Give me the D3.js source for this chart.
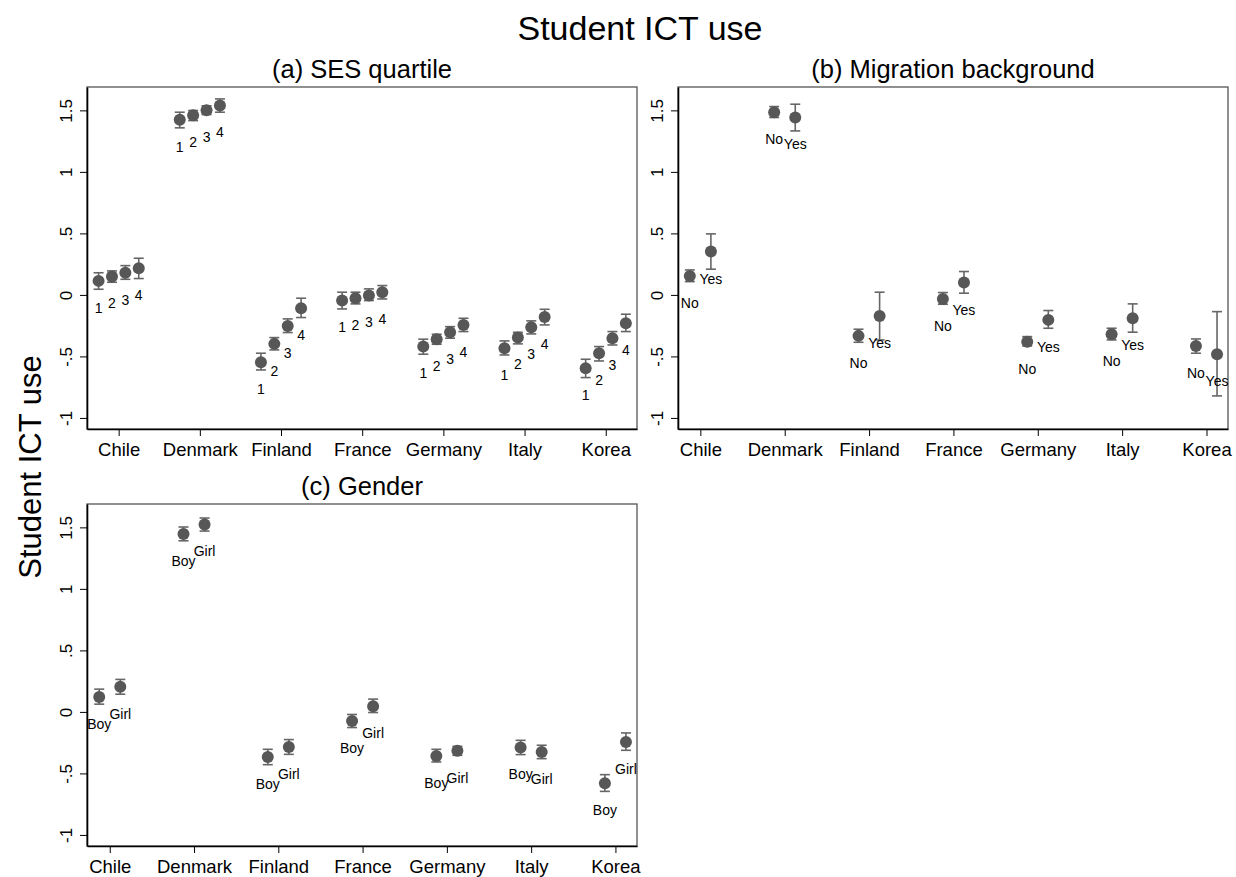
<!DOCTYPE html>
<html>
<head>
<meta charset="utf-8">
<script src="https://cdn.jsdelivr.net/npm/d3@7"></script>
<style>
  html, body { margin: 0; padding: 0; background: #fff; }
  svg { display: block; font-family: "Liberation Sans", Arial, Helvetica, sans-serif; }
</style>
</head>
<body>
<svg id="chart" width="1236" height="877"></svg>
<script>
// ---------- data ----------
const countries = ["Chile", "Denmark", "Finland", "France", "Germany", "Italy", "Korea"];
const yTickValues = [-1, -0.5, 0, 0.5, 1, 1.5];
const yTickLabels = ["-1", "-.5", "0", ".5", "1", "1.5"];

// (a) SES quartile
const sesGroups = ["1", "2", "3", "4"];
const sesMean = [
  [0.114, 0.149, 0.181, 0.217],
  [1.423, 1.461, 1.501, 1.539],
  [-0.547, -0.398, -0.252, -0.108],
  [-0.046, -0.027, -0.005, 0.022],
  [-0.420, -0.360, -0.304, -0.244],
  [-0.434, -0.347, -0.263, -0.179],
  [-0.596, -0.474, -0.352, -0.230]
];
const sesLow = [
  [0.046, 0.103, 0.127, 0.133],
  [1.358, 1.417, 1.466, 1.485],
  [-0.610, -0.447, -0.306, -0.184],
  [-0.114, -0.073, -0.046, -0.033],
  [-0.482, -0.401, -0.352, -0.298],
  [-0.488, -0.398, -0.317, -0.244],
  [-0.672, -0.537, -0.407, -0.298]
];
const sesHigh = [
  [0.180, 0.195, 0.238, 0.298],
  [1.485, 1.499, 1.537, 1.593],
  [-0.474, -0.347, -0.195, -0.027],
  [0.022, 0.022, 0.049, 0.076],
  [-0.360, -0.320, -0.258, -0.190],
  [-0.374, -0.304, -0.211, -0.117],
  [-0.523, -0.420, -0.298, -0.157]
];

// (b) Migration background
const migGroups = ["No", "Yes"];
const migMean = [
  [0.154, 0.352],
  [1.485, 1.442],
  [-0.333, -0.171],
  [-0.033, 0.100],
  [-0.380, -0.203],
  [-0.320, -0.190],
  [-0.415, -0.482]
];
const migLow = [
  [0.108, 0.209],
  [1.442, 1.333],
  [-0.385, -0.366],
  [-0.076, 0.014],
  [-0.415, -0.271],
  [-0.366, -0.303],
  [-0.474, -0.821]
];
const migHigh = [
  [0.203, 0.496],
  [1.531, 1.550],
  [-0.279, 0.022],
  [0.019, 0.190],
  [-0.339, -0.127],
  [-0.271, -0.073],
  [-0.358, -0.136]
];

// (c) Gender
const genGroups = ["Boy", "Girl"];
const genMean = [
  [0.122, 0.204],
  [1.446, 1.524],
  [-0.367, -0.285],
  [-0.073, 0.046],
  [-0.358, -0.315],
  [-0.290, -0.326],
  [-0.579, -0.245]
];
const genLow = [
  [0.063, 0.144],
  [1.391, 1.470],
  [-0.429, -0.345],
  [-0.127, -0.005],
  [-0.407, -0.353],
  [-0.347, -0.380],
  [-0.646, -0.312]
];
const genHigh = [
  [0.185, 0.264],
  [1.503, 1.576],
  [-0.304, -0.225],
  [-0.021, 0.104],
  [-0.304, -0.280],
  [-0.231, -0.271],
  [-0.510, -0.171]
];

// ---------- drawing ----------
const svg = d3.select("#chart");

svg.append("text")
  .attr("x", 640).attr("y", 40)
  .attr("text-anchor", "middle")
  .attr("font-size", 34)
  .attr("fill", "#000")
  .text("Student ICT use");

svg.append("text")
  .attr("transform", "translate(41,467) rotate(-90)")
  .attr("text-anchor", "middle")
  .attr("font-size", 31)
  .attr("fill", "#000")
  .text("Student ICT use");

function panel(cfg) {
  const { left, right, top, bottom, title, groups, mean, low, high, xPad, offsets } = cfg;
  const g = svg.append("g");
  const x = d3.scaleLinear().domain([-xPad[0], countries.length - 1 + xPad[1]]).range([left, right]);
  const y = d3.scaleLinear().domain([-1.09, 1.69]).range([bottom, top]);

  g.append("text")
    .attr("x", (left + right) / 2).attr("y", top - 9)
    .attr("text-anchor", "middle")
    .attr("font-size", 25.5)
    .attr("fill", "#000")
    .text(title);

  g.append("rect")
    .attr("x", left).attr("y", top)
    .attr("width", right - left).attr("height", bottom - top)
    .attr("fill", "none").attr("stroke", "#555").attr("stroke-width", 1.3);

  // y axis
  const yAxis = d3.axisLeft(y).tickValues(yTickValues)
    .tickFormat((d, i) => yTickLabels[i]).tickSize(7).tickSizeOuter(0);
  const ya = g.append("g").attr("transform", `translate(${left},0)`).call(yAxis);
  ya.select(".domain").attr("stroke", "#000").attr("stroke-width", 1.6);
  ya.selectAll(".tick line").attr("stroke", "#000").attr("stroke-width", 1);
  ya.selectAll(".tick text")
    .attr("font-size", 17).attr("fill", "#000")
    .attr("x", null).attr("dy", null)
    .attr("text-anchor", "middle")
    .attr("transform", "translate(-21,0) rotate(-90)")
    .attr("y", 0).attr("dominant-baseline", "central");

  // x axis
  const xAxis = d3.axisBottom(x).tickValues(d3.range(countries.length))
    .tickFormat(i => countries[i]).tickSize(7).tickSizeOuter(0);
  const xa = g.append("g").attr("transform", `translate(0,${bottom})`).call(xAxis);
  xa.select(".domain").attr("stroke", "#000").attr("stroke-width", 1.6);
  xa.selectAll(".tick line").attr("stroke", "#000").attr("stroke-width", 1);
  xa.selectAll(".tick text").attr("font-size", 18.5).attr("fill", "#000").attr("y", 14).attr("dy", "0.71em");

  // data
  const pts = [];
  countries.forEach((c, ci) => {
    groups.forEach((gr, gi) => {
      pts.push({ label: gr, pos: ci + offsets[gi], m: mean[ci][gi], lo: low[ci][gi], hi: high[ci][gi] });
    });
  });

  const cap = 5;
  const eb = g.append("g").attr("stroke", "#666").attr("stroke-width", 1.6).attr("fill", "none");
  eb.selectAll("line.v").data(pts).join("line").attr("class", "v")
    .attr("x1", d => x(d.pos)).attr("x2", d => x(d.pos))
    .attr("y1", d => y(d.lo)).attr("y2", d => y(d.hi));
  eb.selectAll("line.t").data(pts).join("line").attr("class", "t")
    .attr("x1", d => x(d.pos) - cap).attr("x2", d => x(d.pos) + cap)
    .attr("y1", d => y(d.hi)).attr("y2", d => y(d.hi));
  eb.selectAll("line.b").data(pts).join("line").attr("class", "b")
    .attr("x1", d => x(d.pos) - cap).attr("x2", d => x(d.pos) + cap)
    .attr("y1", d => y(d.lo)).attr("y2", d => y(d.lo));

  g.selectAll("circle.pt").data(pts).join("circle").attr("class", "pt")
    .attr("cx", d => x(d.pos)).attr("cy", d => y(d.m)).attr("r", 6)
    .attr("fill", "#575757");

  g.selectAll("text.lab").data(pts).join("text").attr("class", "lab")
    .attr("x", d => x(d.pos)).attr("y", d => y(d.m) + 27)
    .attr("dy", "0.35em")
    .attr("text-anchor", "middle")
    .attr("font-size", 14).attr("fill", "#000")
    .text(d => d.label);
}

panel({ left: 87, right: 637, top: 87, bottom: 429, title: "(a) SES quartile",
  groups: sesGroups, mean: sesMean, low: sesLow, high: sesHigh,
  xPad: [0.39, 0.385], offsets: [-0.2475, -0.0825, 0.0825, 0.2475] });

panel({ left: 678, right: 1228, top: 87, bottom: 429, title: "(b) Migration background",
  groups: migGroups, mean: migMean, low: migLow, high: migHigh,
  xPad: [0.265, 0.255], offsets: [-0.125, 0.125] });

panel({ left: 87, right: 637, top: 504, bottom: 846, title: "(c) Gender",
  groups: genGroups, mean: genMean, low: genLow, high: genHigh,
  xPad: [0.27, 0.256], offsets: [-0.125, 0.125] });
</script>
</body>
</html>
